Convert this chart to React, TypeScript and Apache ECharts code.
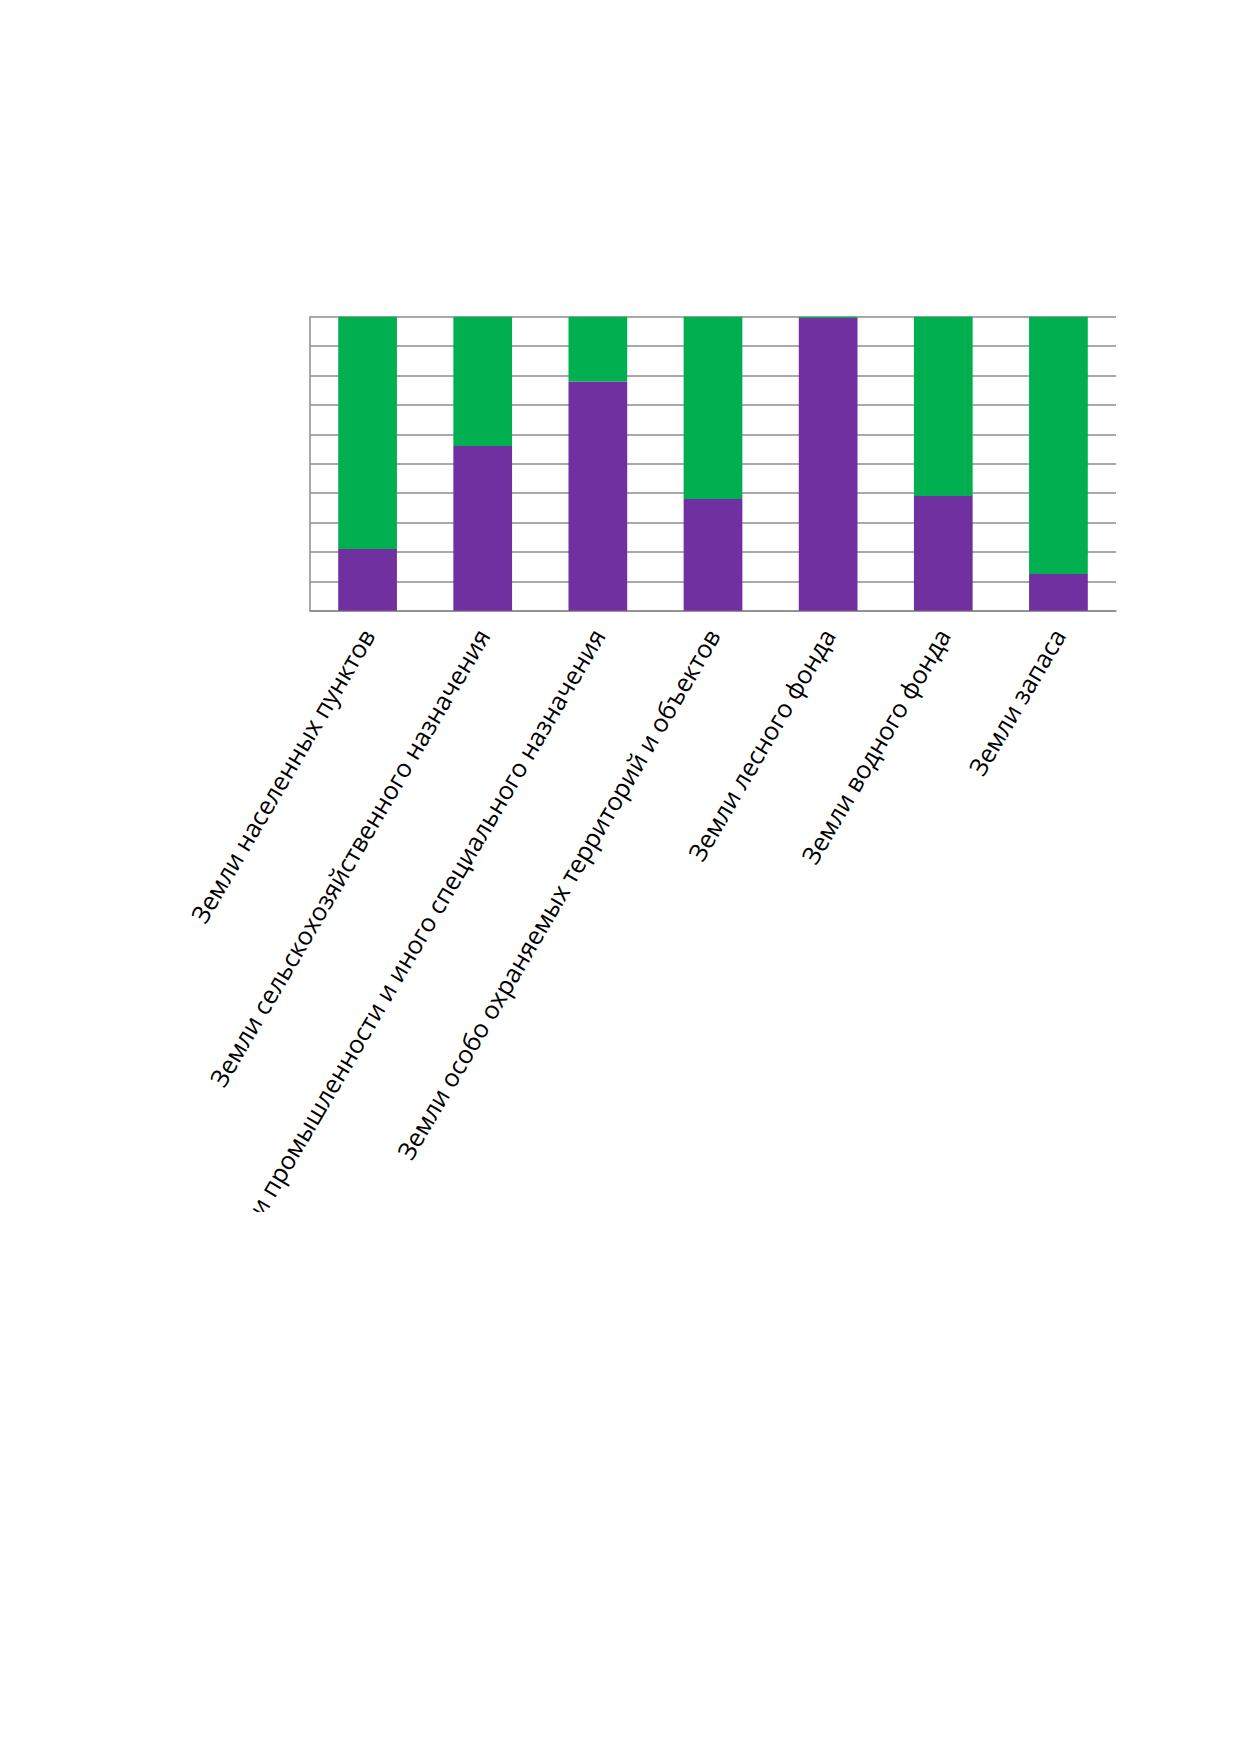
import React, { useEffect, useRef } from "react";
import * as echarts from "echarts";

const categories = [
  "Земли населенных пунктов",
  "Земли сельскохозяйственного назначения",
  "Земли промышленности и иного специального назначения",
  "Земли особо охраняемых территорий и объектов",
  "Земли лесного фонда",
  "Земли водного фонда",
  "Земли запаса",
];
const purpleValues = [21, 56, 78, 38, 99.6, 39, 12.5];
const greenValues = [79, 44, 22, 62, 0.4, 61, 87.5];
const yTicks = { min: 0, max: 100, interval: 10 };

export default function App() {
  const ref = useRef<HTMLDivElement>(null);
  useEffect(() => {
    if (!ref.current) return;
    const chart = echarts.init(ref.current, undefined, { renderer: "svg" });
    chart.setOption({
      animation: false,
      backgroundColor: "#ffffff",
      grid: {
        left: 302,
        top: 308.7,
        right: 115,
        bottom: 601.3,
        containLabel: false,
        outerBoundsMode: "none",
      },
      xAxis: {
        type: "category",
        data: categories,
        axisLine: { show: true, lineStyle: { color: "#8c8c8c", width: 1.5 } },
        axisTick: { show: false },
        axisLabel: {
          interval: 0,
          rotate: 59.5,
          margin: 20,
          color: "#000000",
          fontSize: 25,
          fontFamily: "Open Sans",
          hideOverlap: false,
        },
        splitLine: { show: false },
      },
      yAxis: {
        type: "value",
        min: yTicks.min,
        max: yTicks.max,
        interval: yTicks.interval,
        axisLine: { show: true, lineStyle: { color: "#8c8c8c", width: 1.5 } },
        axisTick: { show: false },
        axisLabel: { show: false },
        splitLine: { show: true, lineStyle: { color: "#8c8c8c", width: 1.5 } },
      },
      series: [
        {
          type: "bar",
          stack: "total",
          data: purpleValues,
          barWidth: "51%",
          itemStyle: { color: "#7030A0" },
        },
        {
          type: "bar",
          stack: "total",
          data: greenValues,
          barWidth: "51%",
          itemStyle: { color: "#00B050" },
        },
      ],
    });
    return () => chart.dispose();
  }, []);
  return <div ref={ref} style={{ width: 1223, height: 1204 }} />;
}
